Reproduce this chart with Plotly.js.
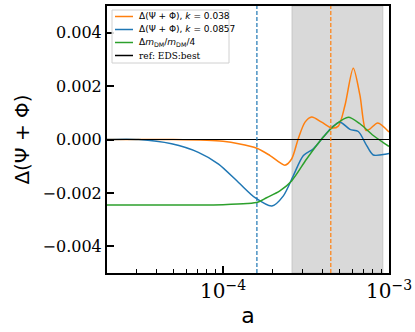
<!DOCTYPE html>
<html>
<head>
<meta charset="utf-8">
<script src="https://cdn.plot.ly/plotly-3.0.1.min.js"></script>
<style>
  body { margin: 0; background: #fff; }
  #chart { width: 415px; height: 332px; }
</style>
</head>
<body>
<div id="chart"></div>
<script>
// values
const aOrange = [2e-5, 5e-5, 8e-5, 1.0e-4, 1.24e-4, 1.6e-4, 1.92e-4, 2.36e-4, 2.59e-4, 2.84e-4, 3.12e-4, 3.42e-4, 3.93e-4, 4.52e-4, 4.95e-4, 5.43e-4, 6.09e-4, 6.68e-4, 7.26e-4, 7.69e-4, 8.55e-4, 1e-3];
const dOrange = [0, 0, -0.00003, -0.00007, -0.00016, -0.00033, -0.0006, -0.00096, -0.00073, 0.00003, 0.00065, 0.00084, 0.00065, 0.00043, 0.0005, 0.00128, 0.00267, 0.00166, 0.00034, 0.0004, 0.00062, 0.00028];

const aBlue = [2e-5, 3.1e-5, 4.9e-5, 7.1e-5, 9.4e-5, 1.24e-4, 1.56e-4, 1.97e-4, 2.31e-4, 2.65e-4, 3.05e-4, 3.5e-4, 4.02e-4, 4.52e-4, 5.07e-4, 5.82e-4, 6.53e-4, 7.34e-4, 8.04e-4, 9.68e-4, 1e-3];
const dBlue = [0, 0, -0.00016, -0.00048, -0.00092, -0.00161, -0.00218, -0.00249, -0.00211, -0.00136, -0.0006, -0.00035, 0.00009, 0.00046, 0.00065, 0.00038, 0.0003, -0.00023, -0.00058, -0.00054, -0.00052];

const aGreen = [2e-5, 5e-5, 1e-4, 1.4e-4, 1.63e-4, 1.83e-4, 2.2e-4, 2.59e-4, 3.19e-4, 4.02e-4, 4.84e-4, 5.69e-4, 6.68e-4, 8.04e-4, 9.68e-4, 1e-3];
const dGreen = [-0.00245, -0.00245, -0.00244, -0.0024, -0.00234, -0.00218, -0.00192, -0.00155, -0.00073, 0.00009, 0.00059, 0.00083, 0.00059, 0.00015, -0.0002, -0.00026];

const aRef = [2e-5, 1e-3];
const dRef = [0, 0];

// shaded window and the two dashed markers
const spanA = [2.6e-4, 9.2e-4];
const markBlue = 1.6e-4;
const markOrange = 4.46e-4;

const names = [
    "Δ(Ψ + Φ), <i>k</i> = 0.038",
    "Δ(Ψ + Φ), <i>k</i> = 0.0857",
    "Δ<i>m</i><sub>DM</sub>/<i>m</i><sub>DM</sub>/4",
    "<span style='font-family:DejaVu Serif'>ref: EDS:best</span>"
];
const colors = ['#ff7f0e', '#1f77b4', '#2ca02c', '#000000'];

const series = [[aOrange, dOrange], [aBlue, dBlue], [aGreen, dGreen], [aRef, dRef]];

const data = series.map((s, i) => ({
    x: s[0], y: s[1], name: names[i], mode: 'lines', showlegend: false,
    line: i < 3 ? {color: colors[i], width: 1.5, shape: 'spline', smoothing: 0.8} : {color: colors[i], width: 1.2}
}));

// plot box in pixels, used to place the hand-made legend
const L = 107, R = 389, T = 6, B = 273;
const px = v => (v - L) / (R - L);
const py = v => (B - v) / (B - T);

const shapes = [
    {type: 'rect', xref: 'x', yref: 'paper', x0: spanA[0], x1: spanA[1], y0: 0, y1: 1,
     fillcolor: 'rgba(128,128,128,0.3)', line: {color: 'rgba(128,128,128,0.25)', width: 1}, layer: 'below'},
    {type: 'line', xref: 'x', yref: 'paper', x0: markBlue, x1: markBlue, y0: 0, y1: 1,
     line: {color: '#1f77b4', width: 1.2, dash: '4px,2px'}},
    {type: 'line', xref: 'x', yref: 'paper', x0: markOrange, x1: markOrange, y0: 0, y1: 1,
     line: {color: '#ff7f0e', width: 1.2, dash: '4px,2px'}},
    // legend box
    {type: 'rect', xref: 'paper', yref: 'paper', x0: px(112), x1: px(229), y0: py(10), y1: py(63),
     fillcolor: 'rgba(255,255,255,0.85)', line: {color: '#d0d0d0', width: 1}}
];
const annotations = [];
const rowY = [16.5, 29.5, 42.5, 55.5];
names.forEach((n, i) => {
    shapes.push({type: 'line', xref: 'paper', yref: 'paper', x0: px(115), x1: px(133), y0: py(rowY[i]), y1: py(rowY[i]),
                 line: {color: colors[i], width: 1.5}});
    annotations.push({xref: 'paper', yref: 'paper', x: px(137), y: py(rowY[i]), xanchor: 'left', yanchor: 'middle',
                      text: n, showarrow: false, font: {family: 'DejaVu Sans', size: 9, color: '#000'}});
});

const layout = {
    width: 415,
    height: 332,
    margin: {l: L, r: 415 - R, t: T, b: 332 - B},
    paper_bgcolor: '#fff',
    plot_bgcolor: '#fff',
    showlegend: false,
    xaxis: {
        type: 'log',
        range: [Math.log10(2e-5), -3],
        dtick: 1,
        exponentformat: 'power',
        showgrid: false, zeroline: false,
        showline: true, mirror: true, linecolor: '#000', linewidth: 2,
        ticks: 'inside', ticklen: 7, tickwidth: 2, tickcolor: '#000',
        minor: {ticks: 'inside', ticklen: 4, tickwidth: 1, tickcolor: '#000', showgrid: false},
        tickfont: {family: 'DejaVu Serif', size: 16, color: '#000'},
        title: {text: 'a', font: {family: 'DejaVu Sans', size: 22, color: '#000'}, standoff: 4}
    },
    yaxis: {
        range: [-0.005, 0.005],
        tickvals: [-0.004, -0.002, 0, 0.002, 0.004],
        ticktext: ['−0.004', '−0.002', '0.000', '0.002', '0.004'],
        showgrid: false, zeroline: false,
        showline: true, mirror: true, linecolor: '#000', linewidth: 2,
        ticks: 'inside', ticklen: 7, tickwidth: 2, tickcolor: '#000',
        tickfont: {family: 'DejaVu Serif', size: 16, color: '#000'},
        title: {text: 'Δ(Ψ + Φ)', font: {family: 'DejaVu Sans', size: 20, color: '#000'}, standoff: 8}
    },
    shapes: shapes,
    annotations: annotations
};

Plotly.newPlot('chart', data, layout, {displayModeBar: false, staticPlot: true});
</script>
</body>
</html>
